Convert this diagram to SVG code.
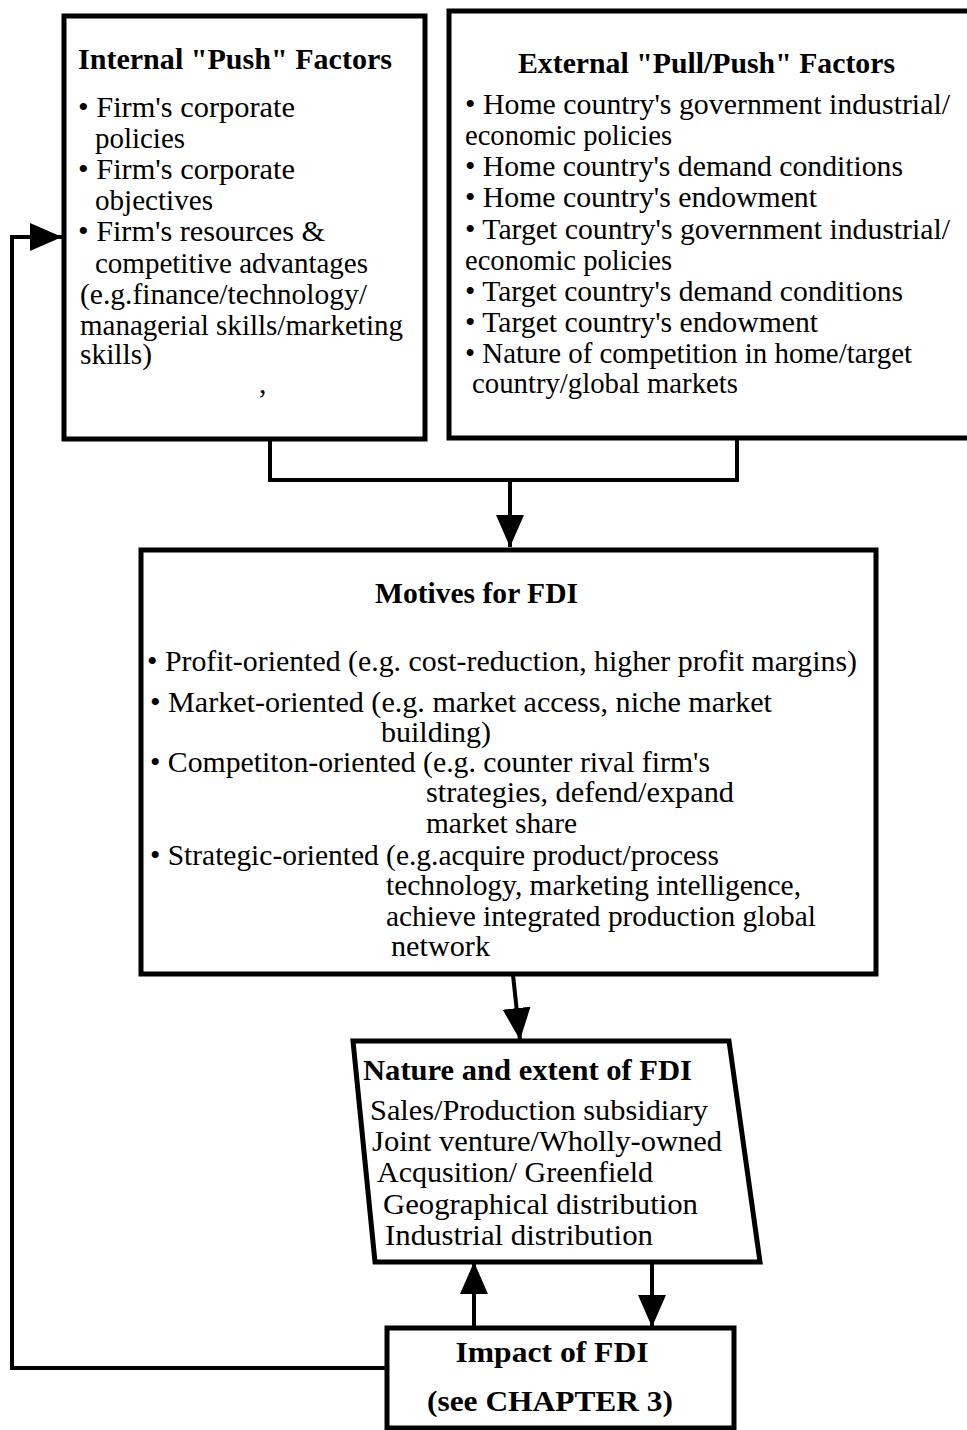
<svg xmlns="http://www.w3.org/2000/svg" width="967" height="1430" viewBox="0 0 967 1430">
  <style>
    .box { fill: #ffffff; stroke: #000000; stroke-width: 5; }
    .t { font-family: "Liberation Serif", "Times New Roman", serif; font-size: 29.5px; fill: #000000; }
    .n { font-size: 30px; }
    .b { font-weight: bold; }
    .line { fill: none; stroke: #000000; stroke-width: 4; }
  </style>
  <defs>
    <marker id="arrow" markerWidth="32" markerHeight="28" refX="32" refY="14" orient="auto" markerUnits="userSpaceOnUse">
      <path d="M0,0 L32,14 L0,28 Z" fill="#000000"/>
    </marker>
  </defs>
  <rect width="967" height="1430" fill="#ffffff"/>

  <!-- connectors -->
  <g id="connectors">
    <polyline class="line" points="270,440 270,480 737,480 737,440"/>
    <line class="line" x1="510" y1="480" x2="510" y2="547" marker-end="url(#arrow)"/>
    <line class="line" x1="513" y1="975" x2="520" y2="1040" marker-end="url(#arrow)"/>
    <line class="line" x1="474" y1="1328" x2="474" y2="1262" marker-end="url(#arrow)"/>
    <line class="line" x1="652" y1="1262" x2="652" y2="1327" marker-end="url(#arrow)"/>
    <polyline class="line" points="385,1368 12,1368 12,237 62,237" marker-end="url(#arrow)"/>
  </g>

  <!-- internal push factors -->
  <g id="internal-factors">
    <rect class="box" x="64" y="16" width="361" height="423"/>
    <text class="t b" x="78" y="69" textLength="314" lengthAdjust="spacingAndGlyphs">Internal "Push" Factors</text>
    <text class="t" x="78" y="117" textLength="217" lengthAdjust="spacingAndGlyphs">• Firm's corporate</text>
    <text class="t" x="95" y="148" textLength="90" lengthAdjust="spacingAndGlyphs">policies</text>
    <text class="t" x="78" y="179" textLength="217" lengthAdjust="spacingAndGlyphs">• Firm's corporate</text>
    <text class="t" x="95" y="210" textLength="118" lengthAdjust="spacingAndGlyphs">objectives</text>
    <text class="t" x="78" y="241" textLength="247" lengthAdjust="spacingAndGlyphs">• Firm's resources &amp;</text>
    <text class="t" x="95" y="273" textLength="273" lengthAdjust="spacingAndGlyphs">competitive advantages</text>
    <text class="t" x="80" y="304" textLength="287" lengthAdjust="spacingAndGlyphs">(e.g.finance/technology/</text>
    <text class="t" x="80" y="335" textLength="323" lengthAdjust="spacingAndGlyphs">managerial skills/marketing</text>
    <text class="t" x="80" y="364" textLength="72" lengthAdjust="spacingAndGlyphs">skills)</text>
    <text class="t" x="259" y="393">,</text>
  </g>

  <!-- external pull/push factors -->
  <g id="external-factors">
    <rect class="box" x="449" y="11" width="530" height="427"/>
    <text class="t b" x="518" y="73" textLength="377" lengthAdjust="spacingAndGlyphs">External "Pull/Push" Factors</text>
    <text class="t" x="465" y="114" textLength="485" lengthAdjust="spacingAndGlyphs">• Home country's government industrial/</text>
    <text class="t" x="465" y="145" textLength="207" lengthAdjust="spacingAndGlyphs">economic policies</text>
    <text class="t" x="465" y="176" textLength="438" lengthAdjust="spacingAndGlyphs">• Home country's demand conditions</text>
    <text class="t" x="465" y="207" textLength="352" lengthAdjust="spacingAndGlyphs">• Home country's endowment</text>
    <text class="t" x="465" y="239" textLength="485" lengthAdjust="spacingAndGlyphs">• Target country's government industrial/</text>
    <text class="t" x="465" y="270" textLength="207" lengthAdjust="spacingAndGlyphs">economic policies</text>
    <text class="t" x="465" y="301" textLength="438" lengthAdjust="spacingAndGlyphs">• Target country's demand conditions</text>
    <text class="t" x="465" y="332" textLength="353" lengthAdjust="spacingAndGlyphs">• Target country's endowment</text>
    <text class="t" x="465" y="363" textLength="447" lengthAdjust="spacingAndGlyphs">• Nature of competition in home/target</text>
    <text class="t" x="472" y="393" textLength="266" lengthAdjust="spacingAndGlyphs">country/global markets</text>
  </g>

  <!-- motives for FDI -->
  <g id="motives">
    <rect class="box" x="141" y="550" width="735" height="424"/>
    <text class="t n b" x="375" y="603" textLength="203" lengthAdjust="spacingAndGlyphs">Motives for FDI</text>
    <text class="t n" x="147" y="671" textLength="710" lengthAdjust="spacingAndGlyphs">• Profit-oriented (e.g. cost-reduction, higher profit margins)</text>
    <text class="t n" x="150" y="712" textLength="622" lengthAdjust="spacingAndGlyphs">• Market-oriented (e.g. market  access,  niche market</text>
    <text class="t n" x="381" y="742" textLength="110" lengthAdjust="spacingAndGlyphs">building)</text>
    <text class="t n" x="150" y="772" textLength="560" lengthAdjust="spacingAndGlyphs">• Competiton-oriented (e.g. counter rival firm's</text>
    <text class="t n" x="426" y="802" textLength="308" lengthAdjust="spacingAndGlyphs">strategies,  defend/expand</text>
    <text class="t n" x="426" y="833" textLength="151" lengthAdjust="spacingAndGlyphs">market share</text>
    <text class="t n" x="150" y="865" textLength="569" lengthAdjust="spacingAndGlyphs">• Strategic-oriented (e.g.acquire product/process</text>
    <text class="t n" x="386" y="895" textLength="415" lengthAdjust="spacingAndGlyphs">technology, marketing intelligence,</text>
    <text class="t n" x="386" y="926" textLength="430" lengthAdjust="spacingAndGlyphs">achieve integrated production global</text>
    <text class="t n" x="391" y="956" textLength="99" lengthAdjust="spacingAndGlyphs">network</text>
  </g>

  <!-- nature and extent of FDI -->
  <g id="nature">
    <polygon class="box" points="353,1041 729,1041 760,1262 375,1262"/>
    <text class="t n b" x="363" y="1080" textLength="329" lengthAdjust="spacingAndGlyphs">Nature and extent of FDI</text>
    <text class="t n" x="370" y="1120" textLength="338" lengthAdjust="spacingAndGlyphs">Sales/Production subsidiary</text>
    <text class="t n" x="372" y="1151" textLength="350" lengthAdjust="spacingAndGlyphs">Joint venture/Wholly-owned</text>
    <text class="t n" x="377" y="1182" textLength="276" lengthAdjust="spacingAndGlyphs">Acqusition/ Greenfield</text>
    <text class="t n" x="383" y="1214" textLength="315" lengthAdjust="spacingAndGlyphs">Geographical distribution</text>
    <text class="t n" x="385" y="1245" textLength="268" lengthAdjust="spacingAndGlyphs">Industrial distribution</text>
  </g>

  <!-- impact of FDI -->
  <g id="impact">
    <rect class="box" x="387" y="1328" width="347" height="100"/>
    <text class="t n b" x="552" y="1362" text-anchor="middle" textLength="193" lengthAdjust="spacingAndGlyphs">Impact of FDI</text>
    <text class="t n b" x="550" y="1411" text-anchor="middle" textLength="246" lengthAdjust="spacingAndGlyphs">(see CHAPTER 3)</text>
  </g>
</svg>
